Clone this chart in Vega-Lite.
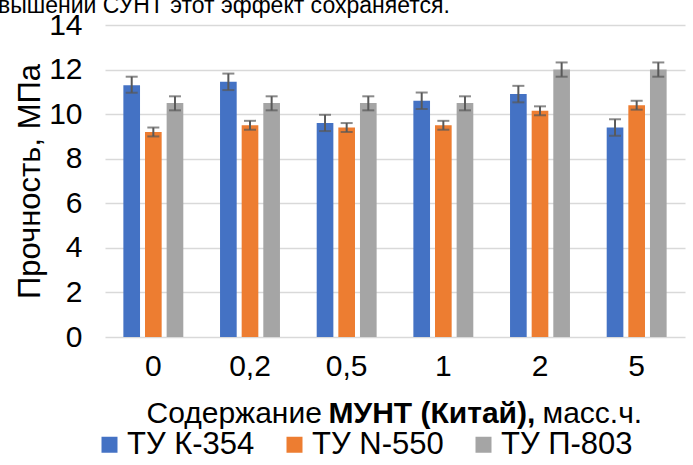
{
  "$schema": "https://vega.github.io/schema/vega-lite/v6.json",
  "width": 580,
  "height": 312,
  "autosize": "none",
  "padding": {"left": 105, "top": 25, "right": 8, "bottom": 128},
  "background": "white",
  "title": {
    "text": "вышении СУНТ этот эффект сохраняется.",
    "anchor": "start",
    "frame": "group",
    "font": "Liberation Sans",
    "fontSize": 23,
    "fontWeight": "normal",
    "color": "#000000",
    "baseline": "alphabetic",
    "dx": -107,
    "offset": -26
  },
  "data": {
    "values": [
      {"x": "0", "series": "ТУ К-354", "value": 11.3, "lo": 10.96, "hi": 11.68},
      {"x": "0", "series": "ТУ N-550", "value": 9.2, "lo": 9.0, "hi": 9.4},
      {"x": "0", "series": "ТУ П-803", "value": 10.5, "lo": 10.17, "hi": 10.8},
      {"x": "0,2", "series": "ТУ К-354", "value": 11.45, "lo": 11.08, "hi": 11.82},
      {"x": "0,2", "series": "ТУ N-550", "value": 9.5, "lo": 9.3, "hi": 9.7},
      {"x": "0,2", "series": "ТУ П-803", "value": 10.5, "lo": 10.17, "hi": 10.8},
      {"x": "0,5", "series": "ТУ К-354", "value": 9.6, "lo": 9.24, "hi": 9.97},
      {"x": "0,5", "series": "ТУ N-550", "value": 9.4, "lo": 9.2, "hi": 9.6},
      {"x": "0,5", "series": "ТУ П-803", "value": 10.5, "lo": 10.17, "hi": 10.8},
      {"x": "1", "series": "ТУ К-354", "value": 10.6, "lo": 10.23, "hi": 10.97},
      {"x": "1", "series": "ТУ N-550", "value": 9.5, "lo": 9.3, "hi": 9.7},
      {"x": "1", "series": "ТУ П-803", "value": 10.5, "lo": 10.17, "hi": 10.8},
      {"x": "2", "series": "ТУ К-354", "value": 10.9, "lo": 10.53, "hi": 11.27},
      {"x": "2", "series": "ТУ N-550", "value": 10.15, "lo": 9.95, "hi": 10.35},
      {"x": "2", "series": "ТУ П-803", "value": 12.0, "lo": 11.68, "hi": 12.32},
      {"x": "5", "series": "ТУ К-354", "value": 9.4, "lo": 9.03, "hi": 9.77},
      {"x": "5", "series": "ТУ N-550", "value": 10.4, "lo": 10.2, "hi": 10.6},
      {"x": "5", "series": "ТУ П-803", "value": 12.0, "lo": 11.68, "hi": 12.32}
    ]
  },
  "layer": [
    {
      "mark": {"type": "bar"},
      "encoding": {
        "x": {
          "field": "x", "type": "nominal", "sort": ["0", "0,2", "0,5", "1", "2", "5"],
          "scale": {"paddingInner": 0.38, "paddingOuter": 0.19},
          "axis": {
            "orient": "bottom", "title": null, "domain": false, "ticks": false,
            "labelAngle": 0, "labelPadding": 14, "labelFontSize": 30,
            "labelFont": "Liberation Sans", "labelColor": "#000000"
          }
        },
        "xOffset": {
          "field": "series", "type": "nominal",
          "sort": ["ТУ К-354", "ТУ N-550", "ТУ П-803"],
          "scale": {"paddingInner": 0.23, "paddingOuter": 0}
        },
        "y": {
          "field": "value", "type": "quantitative",
          "scale": {"domain": [0, 14], "nice": false},
          "axis": {
            "values": [0, 2, 4, 6, 8, 10, 12, 14],
            "domain": false, "ticks": false, "grid": true,
            "gridColor": "#d9d9d9", "gridWidth": 1.5,
            "labelPadding": 23, "labelFontSize": 30, "labelFont": "Liberation Sans",
            "labelColor": "#000000",
            "title": "Прочность, МПа", "titleFont": "Liberation Sans",
            "titleFontSize": 31, "titleFontWeight": "normal", "titleColor": "#000000",
            "titleX": -66, "titleBaseline": "alphabetic"
          }
        },
        "color": {
          "field": "series", "type": "nominal",
          "scale": {
            "domain": ["ТУ К-354", "ТУ N-550", "ТУ П-803"],
            "range": ["#4472C4", "#ED7D31", "#A5A5A5"]
          },
          "legend": {
            "orient": "none", "direction": "horizontal", "title": null,
            "legendX": -11, "legendY": 404, "padding": 0,
            "symbolType": "square", "symbolSize": 256, "symbolStrokeWidth": 0,
            "labelFont": "Liberation Sans", "labelFontSize": 31, "labelColor": "#000000",
            "labelOffset": 2, "columnPadding": 24, "labelLimit": 300
          }
        }
      }
    },
    {
      "mark": {"type": "rule", "color": "#595959", "strokeWidth": 2},
      "encoding": {
        "x": {
          "field": "x", "type": "nominal", "sort": ["0", "0,2", "0,5", "1", "2", "5"],
          "axis": {
            "orient": "bottom", "domain": false, "ticks": false, "labels": false,
            "title": "Содержание", "titleFont": "Liberation Sans", "titleFontSize": 30,
            "titleFontWeight": "normal", "titleColor": "#000000",
            "titleX": 41, "titleY": 85, "titleAlign": "left", "titleBaseline": "alphabetic"
          }
        },
        "xOffset": {"field": "series", "type": "nominal", "sort": ["ТУ К-354", "ТУ N-550", "ТУ П-803"]},
        "y": {"field": "lo", "type": "quantitative"},
        "y2": {"field": "hi"}
      }
    },
    {
      "mark": {"type": "tick", "color": "#595959", "thickness": 2, "size": 12},
      "encoding": {
        "x": {
          "field": "x", "type": "nominal", "sort": ["0", "0,2", "0,5", "1", "2", "5"],
          "axis": {
            "orient": "bottom", "domain": false, "ticks": false, "labels": false,
            "title": "МУНТ (Китай),", "titleFont": "Liberation Sans", "titleFontSize": 30,
            "titleFontWeight": "bold", "titleColor": "#000000",
            "titleX": 223, "titleY": 85, "titleAlign": "left", "titleBaseline": "alphabetic"
          }
        },
        "xOffset": {"field": "series", "type": "nominal", "sort": ["ТУ К-354", "ТУ N-550", "ТУ П-803"]},
        "y": {"field": "lo", "type": "quantitative"}
      }
    },
    {
      "mark": {"type": "tick", "color": "#595959", "thickness": 2, "size": 12},
      "encoding": {
        "x": {
          "field": "x", "type": "nominal", "sort": ["0", "0,2", "0,5", "1", "2", "5"],
          "axis": {
            "orient": "bottom", "domain": false, "ticks": false, "labels": false,
            "title": "масс.ч.", "titleFont": "Liberation Sans", "titleFontSize": 30,
            "titleFontWeight": "normal", "titleColor": "#000000",
            "titleX": 437, "titleY": 85, "titleAlign": "left", "titleBaseline": "alphabetic"
          }
        },
        "xOffset": {"field": "series", "type": "nominal", "sort": ["ТУ К-354", "ТУ N-550", "ТУ П-803"]},
        "y": {"field": "hi", "type": "quantitative"}
      }
    }
  ],
  "resolve": {"axis": {"x": "independent"}},
  "config": {
    "view": {"stroke": null},
    "font": "Liberation Sans"
  }
}
